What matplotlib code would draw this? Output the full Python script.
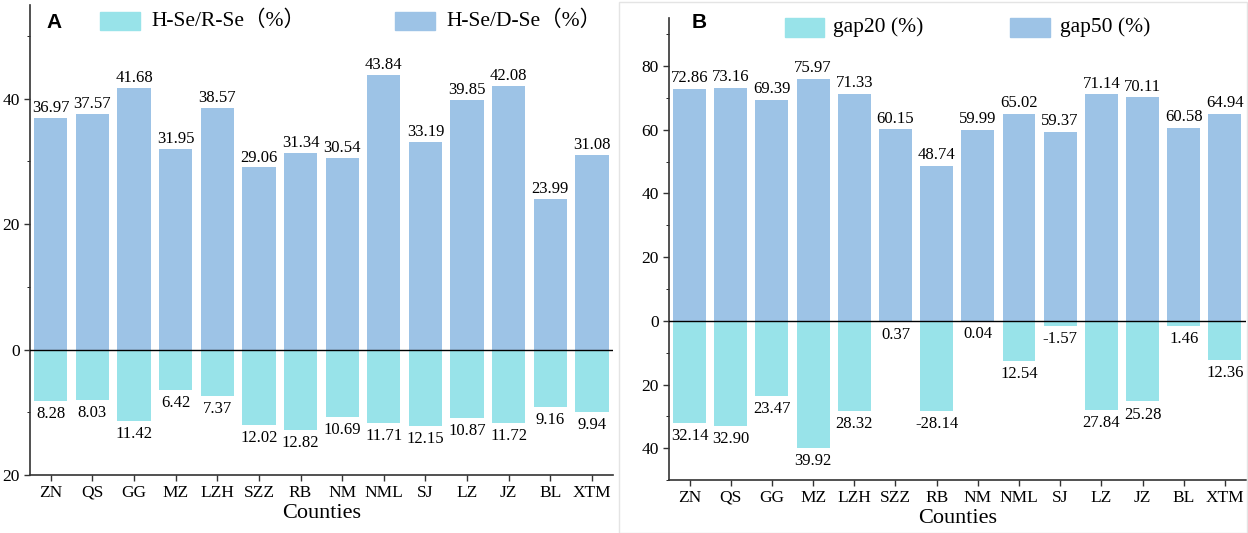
import numpy as np
import matplotlib.pyplot as plt
from matplotlib.patches import Rectangle
from matplotlib.ticker import MultipleLocator, FuncFormatter

counties = ['ZN', 'QS', 'GG', 'MZ', 'LZH', 'SZZ', 'RB', 'NM', 'NML', 'SJ', 'LZ', 'JZ', 'BL', 'XTM']

# panel A
hse_dse = [36.97, 37.57, 41.68, 31.95, 38.57, 29.06, 31.34, 30.54, 43.84, 33.19, 39.85, 42.08, 23.99, 31.08]
hse_rse = [8.28, 8.03, 11.42, 6.42, 7.37, 12.02, 12.82, 10.69, 11.71, 12.15, 10.87, 11.72, 9.16, 9.94]

# panel B (gap20 drawn downwards, labels as printed)
gap50 = [72.86, 73.16, 69.39, 75.97, 71.33, 60.15, 48.74, 59.99, 65.02, 59.37, 71.14, 70.11, 60.58, 64.94]
gap20 = [32.14, 32.90, 23.47, 39.92, 28.32, 0.37, 28.14, 0.04, 12.54, 1.57, 27.84, 25.28, 1.46, 12.36]
gap20_labels = ['32.14', '32.90', '23.47', '39.92', '28.32', '0.37', '-28.14', '0.04',
                '12.54', '-1.57', '27.84', '25.28', '1.46', '12.36']

cyan = '#98E3E9'
blue = '#9DC3E6'
serif = ['Liberation Serif', 'Noto Sans CJK SC']

W, H = 1248, 533
fig = plt.figure(figsize=(W / 100, H / 100), dpi=100)
axA = fig.add_axes([0.024, 0.109, 0.467, 0.882])
axB = fig.add_axes([0.536, 0.099, 0.462, 0.867])

# light frame around panel B
fig.patches.append(Rectangle((0.496, 0.0), 0.503, 0.997, transform=fig.transFigure,
                             fill=False, edgecolor='#e4e4e4', lw=1))


def px(x, y):
    # pixel position (from top-left) -> figure fraction
    return x / W, 1 - y / H


def legend_item(x0, y0, x1, y1, col, text, tx):
    fx, fy = px(x0, y1)
    fig.patches.append(Rectangle((fx, fy), (x1 - x0) / W, (y1 - y0) / H,
                                 transform=fig.transFigure, color=col, zorder=5))
    fig.text(*px(tx, (y0 + y1) / 2), text, va='center', ha='left',
             fontsize=15.5, family=serif)


def draw_panel(ax, up, down, down_labels, ylim, pos_off, neg_off):
    x = np.arange(len(counties))
    ax.bar(x, up, width=0.8, color=blue, zorder=2)
    ax.bar(x, [-v for v in down], width=0.8, color=cyan, zorder=2)
    ax.axhline(0, color='black', lw=1, zorder=3)

    for i, v in enumerate(up):
        ax.text(i, v + pos_off, f'{v:.2f}', ha='center', va='bottom',
                fontsize=12, family=serif)
    for i, v in enumerate(down):
        ax.text(i, -v - neg_off, down_labels[i], ha='center', va='top',
                fontsize=12, family=serif)

    ax.set_xlim(-0.5, len(counties) - 0.5)
    ax.set_ylim(*ylim)
    ax.set_xticks(x)
    ax.set_xticklabels(counties, family=serif, fontsize=12.5)
    ax.yaxis.set_major_locator(MultipleLocator(20))
    ax.yaxis.set_minor_locator(MultipleLocator(10))
    ax.yaxis.set_major_formatter(FuncFormatter(lambda v, p: f'{abs(v):.0f}'))
    for lab in ax.get_yticklabels():
        lab.set_family(serif)
        lab.set_fontsize(12.5)
    ax.tick_params(axis='both', direction='out', length=4, width=1, colors='#333333',
                   labelcolor='black')
    ax.tick_params(axis='y', which='minor', length=2.5)
    ax.tick_params(axis='x', pad=3)
    ax.spines['top'].set_visible(False)
    ax.spines['right'].set_visible(False)
    for s in ('left', 'bottom'):
        ax.spines[s].set_color('#333333')
        ax.spines[s].set_linewidth(1.2)
    ax.set_xlabel('Counties', family=serif, fontsize=16, labelpad=2.5)


draw_panel(axA, hse_dse, hse_rse, [f'{v:.2f}' for v in hse_rse], (-20, 55), 0.3, 0.8)
draw_panel(axB, gap50, gap20, gap20_labels, (-50, 95), 0.8, 1.6)

# panel letters
fig.text(*px(46, 22), 'A', fontsize=15, fontweight='bold', family='Liberation Sans',
         ha='left', va='center')
fig.text(*px(692, 22), 'B', fontsize=15, fontweight='bold', family='Liberation Sans',
         ha='left', va='center')

# legends
legend_item(100, 12, 140, 30, cyan, 'H-Se/R-Se（%）', 151)
legend_item(395, 12, 435, 30, blue, 'H-Se/D-Se（%）', 446)
legend_item(785, 18, 824, 37, cyan, 'gap20 (%)', 833)
legend_item(1010, 18, 1050, 37, blue, 'gap50 (%)', 1060)

fig.savefig('out.png', dpi=100)
